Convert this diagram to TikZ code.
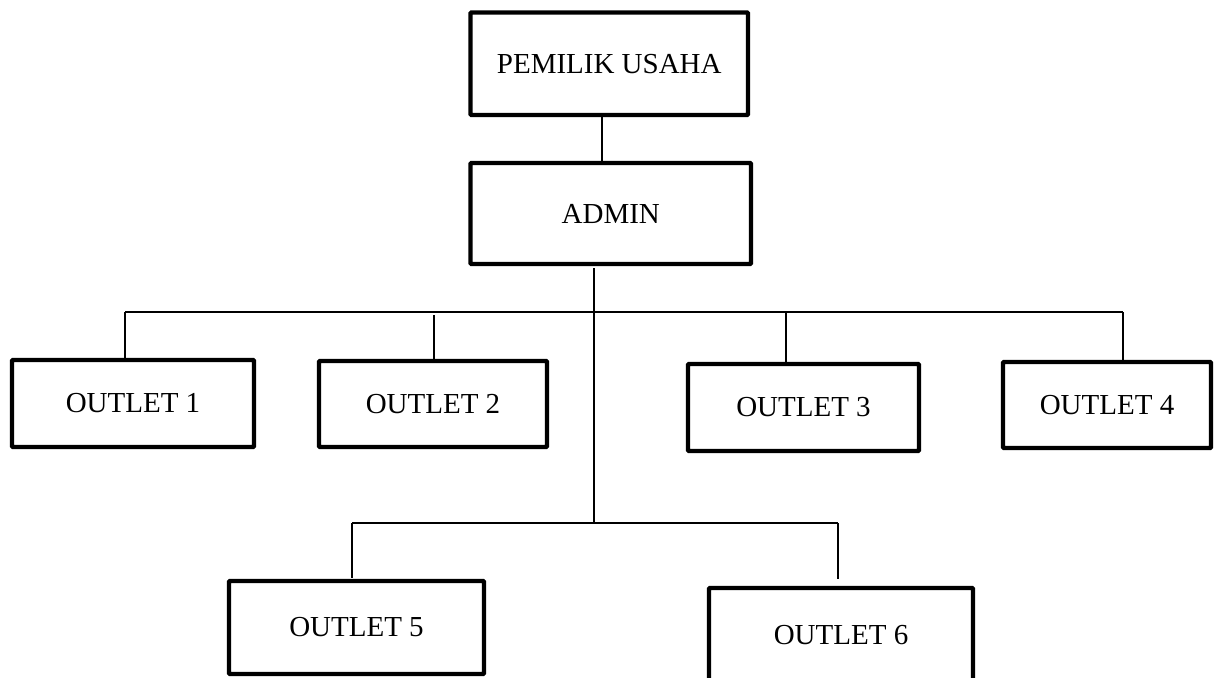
\documentclass[tikz,border=0pt]{standalone}
\usepackage{fontspec}
\setmainfont{Liberation Serif}
\usetikzlibrary{positioning}

\tikzset{
	box/.style={draw, line width=2.5pt, rounded corners=0.5pt, inner sep=0pt, font=\fontsize{16.5}{19}\selectfont},
	conn/.style={line width=1.1pt}
}

\begin{document}
\begin{tikzpicture}[x=0.02cm, y=-0.02cm]
		%%%%% START %%%%%
		\useasboundingbox (0, 0) rectangle (1216, 677);
		
		\node[box, minimum width=5.55cm, minimum height=2.05cm] (pemilik) at (609.25, 63.75) {PEMILIK USAHA};
		\node[box, minimum width=5.61cm, minimum height=2.02cm] (admin) at (610.75, 213.5) {ADMIN};
		
		\node[box, minimum width=4.84cm, minimum height=1.74cm] (outlet1) at (133, 403.5) {OUTLET 1};
		\node[box, minimum width=4.56cm, minimum height=1.72cm] (outlet2) at (433, 404) {OUTLET 2};
		\node[box, minimum width=4.62cm, minimum height=1.74cm] (outlet3) at (803.5, 407.5) {OUTLET 3};
		\node[box, minimum width=4.16cm, minimum height=1.72cm] (outlet4) at (1107, 405) {OUTLET 4};
		
		\node[box, minimum width=5.10cm, minimum height=1.86cm] (outlet5) at (356.5, 627.5) {OUTLET 5};
		\node[box, minimum width=5.28cm, minimum height=1.90cm] (outlet6) at (841, 635.5) {OUTLET 6};
		
		% bus lines
		\coordinate (busL) at (125, 312);
		\coordinate (busR) at (1123, 312);
		\coordinate (subL) at (352, 523);
		\coordinate (subR) at (838, 523);
		\coordinate (mid) at (594, 523);
		
		\draw[conn] (pemilik.south -| 602, 0) -- (admin.north -| 602, 0);
		\draw[conn] (594, 268) -- (mid);
		
		\draw[conn] (busL) -- (busR);
		\draw[conn] (subL) -- (subR);
		
		\draw[conn] (busL) -- (outlet1.north -| busL);
		\draw[conn] (434, 315) -- (outlet2.north -| 434, 0);
		\draw[conn] (786, 312) -- (outlet3.north -| 786, 0);
		\draw[conn] (busR) -- (outlet4.north -| busR);
		
		\draw[conn] (subL) -- (352, 578);
		\draw[conn] (subR) -- (838, 579);
		
		%%%%% END %%%%%
	\end{tikzpicture}
\end{document}
